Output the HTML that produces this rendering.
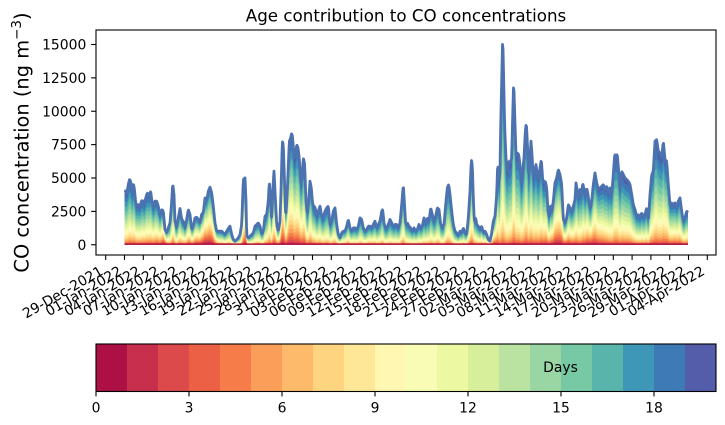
<!DOCTYPE html>
<html><head><meta charset="utf-8">
<style>
html,body{margin:0;padding:0;background:#fff;}
svg{display:block;}
text{font-family:"DejaVu Sans","Liberation Sans",sans-serif;fill:#000;}
</style></head>
<body>
<svg id="s" width="725" height="425" viewBox="0 0 725 425" xmlns="http://www.w3.org/2000/svg">
<rect x="0" y="0" width="725" height="425" fill="#fff"/>
<g id="stack"></g>
<rect x="96" y="30" width="620" height="225" fill="none" stroke="#000" stroke-width="1.1"/>
<text x="406" y="21.7" font-size="16.7" text-anchor="middle">Age contribution to CO concentrations</text>
<text transform="translate(28.5,142.5) rotate(-90)" font-size="19.4" text-anchor="middle">CO concentration (ng m<tspan dy="-7.5" font-size="13.5">−3</tspan><tspan dy="7.5">)</tspan></text>
<g stroke="#000" stroke-width="1.1">
<line x1="91.1" x2="96" y1="244.77" y2="244.77"/>
<line x1="91.1" x2="96" y1="211.39" y2="211.39"/>
<line x1="91.1" x2="96" y1="178.01" y2="178.01"/>
<line x1="91.1" x2="96" y1="144.63" y2="144.63"/>
<line x1="91.1" x2="96" y1="111.25" y2="111.25"/>
<line x1="91.1" x2="96" y1="77.87" y2="77.87"/>
<line x1="91.1" x2="96" y1="44.49" y2="44.49"/>
</g>
<g font-size="13.9" text-anchor="end">
<text x="86.3" y="249.8">0</text>
<text x="86.3" y="216.4">2500</text>
<text x="86.3" y="183.0">5000</text>
<text x="86.3" y="149.6">7500</text>
<text x="86.3" y="116.3">10000</text>
<text x="86.3" y="82.9">12500</text>
<text x="86.3" y="49.5">15000</text>
</g>
<g id="xticks" stroke="#000" stroke-width="1.1"></g>
<g font-size="13.9" text-anchor="end">
<text transform="translate(104.0,273.8) rotate(-30)">29-Dec-2021</text>
<text transform="translate(122.8,273.8) rotate(-30)">01-Jan-2022</text>
<text transform="translate(141.6,273.8) rotate(-30)">04-Jan-2022</text>
<text transform="translate(160.4,273.8) rotate(-30)">07-Jan-2022</text>
<text transform="translate(179.2,273.8) rotate(-30)">10-Jan-2022</text>
<text transform="translate(198.0,273.8) rotate(-30)">13-Jan-2022</text>
<text transform="translate(216.8,273.8) rotate(-30)">16-Jan-2022</text>
<text transform="translate(235.6,273.8) rotate(-30)">19-Jan-2022</text>
<text transform="translate(254.4,273.8) rotate(-30)">22-Jan-2022</text>
<text transform="translate(273.2,273.8) rotate(-30)">25-Jan-2022</text>
<text transform="translate(292.0,273.8) rotate(-30)">28-Jan-2022</text>
<text transform="translate(310.8,273.8) rotate(-30)">31-Jan-2022</text>
<text transform="translate(329.6,273.8) rotate(-30)">03-Feb-2022</text>
<text transform="translate(348.4,273.8) rotate(-30)">06-Feb-2022</text>
<text transform="translate(367.2,273.8) rotate(-30)">09-Feb-2022</text>
<text transform="translate(386.0,273.8) rotate(-30)">12-Feb-2022</text>
<text transform="translate(404.8,273.8) rotate(-30)">15-Feb-2022</text>
<text transform="translate(423.6,273.8) rotate(-30)">18-Feb-2022</text>
<text transform="translate(442.4,273.8) rotate(-30)">21-Feb-2022</text>
<text transform="translate(461.2,273.8) rotate(-30)">24-Feb-2022</text>
<text transform="translate(480.0,273.8) rotate(-30)">27-Feb-2022</text>
<text transform="translate(498.8,273.8) rotate(-30)">02-Mar-2022</text>
<text transform="translate(517.6,273.8) rotate(-30)">05-Mar-2022</text>
<text transform="translate(536.4,273.8) rotate(-30)">08-Mar-2022</text>
<text transform="translate(555.2,273.8) rotate(-30)">11-Mar-2022</text>
<text transform="translate(574.0,273.8) rotate(-30)">14-Mar-2022</text>
<text transform="translate(592.8,273.8) rotate(-30)">17-Mar-2022</text>
<text transform="translate(611.6,273.8) rotate(-30)">20-Mar-2022</text>
<text transform="translate(630.4,273.8) rotate(-30)">23-Mar-2022</text>
<text transform="translate(649.2,273.8) rotate(-30)">26-Mar-2022</text>
<text transform="translate(668.0,273.8) rotate(-30)">29-Mar-2022</text>
<text transform="translate(686.8,273.8) rotate(-30)">01-Apr-2022</text>
<text transform="translate(705.6,273.8) rotate(-30)">04-Apr-2022</text>
</g>
<!-- colorbar -->
<g id="cbar"></g>
<rect x="96" y="344" width="620" height="47.5" fill="none" stroke="#000" stroke-width="1.1"/>
<g stroke="#000" stroke-width="1.1">
<line x1="96" x2="96" y1="391.5" y2="396.4"/>
<line x1="189" x2="189" y1="391.5" y2="396.4"/>
<line x1="282" x2="282" y1="391.5" y2="396.4"/>
<line x1="375" x2="375" y1="391.5" y2="396.4"/>
<line x1="468" x2="468" y1="391.5" y2="396.4"/>
<line x1="561" x2="561" y1="391.5" y2="396.4"/>
<line x1="654" x2="654" y1="391.5" y2="396.4"/>
</g>
<g font-size="13.9" text-anchor="middle">
<text x="96" y="412.3">0</text>
<text x="189" y="412.3">3</text>
<text x="282" y="412.3">6</text>
<text x="375" y="412.3">9</text>
<text x="468" y="412.3">12</text>
<text x="561" y="412.3">15</text>
<text x="654" y="412.3">18</text>
</g>
<text x="560.5" y="372" font-size="13.9" text-anchor="middle">Days</text>
</svg>
<script>
(function(){
var NS="http://www.w3.org/2000/svg";
var C=['#ac1045','#c72f4c','#dd4a4c','#ec6146','#f67d4a','#fb9e5a','#fdba6b','#fed481','#fee898','#fff7b2','#f9fcb5','#ecf8a2','#d7ef9b','#bae3a1','#9ad6a4','#77c9a5','#59b4ab','#3f97b7','#3d7ab6','#535da9'];
var cb=document.getElementById('cbar');
for(var i=0;i<20;i++){var r=document.createElementNS(NS,'rect');r.setAttribute('x',96+31*i);r.setAttribute('y',344);r.setAttribute('width',31.4);r.setAttribute('height',47.5);r.setAttribute('fill',C[i]);cb.appendChild(r);}
var xt=document.getElementById('xticks');
for(var i=0;i<=32;i++){var x=105.7+18.8*i;var l=document.createElementNS(NS,'line');l.setAttribute('x1',x);l.setAttribute('x2',x);l.setAttribute('y1',255);l.setAttribute('y2',259.9);xt.appendChild(l);}
var P=[[124.5,189.3],[125.5,190],[126.7,192.7],[128.3,183.3],[129.7,177.7],[131,181.7],[132.3,193.3],[133.3,182.7],[134.3,186.7],[135.7,201.7],[136.7,205],[138.3,203.3],[140,205],[141.7,199.3],[143.3,200],[144.3,203.3],[145.7,196.7],[147.3,191.7],[149,195],[150.7,190],[151.7,198.3],[153.3,206.7],[155,200],[156.7,200],[158.3,205],[160,215],[161.7,208.3],[163.3,210],[165,228.3],[166.7,231.7],[168.3,226.7],[170,221.7],[171.7,200],[172.7,182.3],[174,193.3],[175,220],[176.7,226.7],[178.3,216.7],[180,207.3],[181.7,218.3],[183.3,220],[185,226.7],[186.7,218.3],[188.3,208.3],[190,213.3],[191.7,228.3],[193.3,225],[195,216.7],[196.7,216],[198.3,218.3],[200,221.7],[201.7,212.7],[203.3,211.7],[205,196.7],[206.7,199.3],[208.3,190],[210,186],[211.7,191.7],[213.3,205],[215,221.7],[216.7,230],[218.3,230],[221.7,230],[223.3,231.7],[225,233.3],[226.7,230],[228.3,227.3],
[230,225],[231.7,233.3],[233.3,238.3],[235,240],[236.7,238.3],[238.3,236.7],[240,233.3],[241.7,223.3],[243.3,178.3],[245,176.7],[246,200],[246.7,235],[248.3,236.7],[250,235],[251.7,233.3],[253.3,231.7],[255,225],[256.7,223.3],[258.3,221.7],[260,225],[261.7,233.3],[263.3,230],[265,215],[266.7,213.3],[268.3,200],[269.3,180],[270.7,200],[271.7,220],[272.7,190],[274,170],[275,190],[276.7,223.3],[278.3,230],[280,220],[281,190],[282.3,140],[283.3,143.3],[284.3,173.3],[285.7,216.7],[287.3,190],[289.3,140],[290.7,136.7],[291.7,131.7],[292.7,136.7],[294,156.7],[295.3,155],[296.7,143.3],[298,146.7],[299.3,156.7],[300.7,183.3],[302,176.7],[303.3,156.7],[304.7,163.3],[306,200],[307.3,213.3],[308.7,200],[310,180],[311.3,186.7],[312.7,203.3],[314,205],[315.3,206.7],[316.7,216.7],[318.3,210],[320,205],[321.7,215],[323.3,216.7],[325,210],[326.7,206.7],[328.3,205],[330,223.3],[331.7,220],[333.3,210],[335,206.7],[336.7,223.3],[338.3,233.3],[340,236.7],[341.7,231.7],[343.3,230],[345,230],[346.7,225],[348.3,218.3],[350,226.7],[351.7,230],[353.3,226.7],[355,226.7],[356.7,228.3],[358.3,225],[360,216.7],[361.7,218.3],[363.3,226.7],[365,230],[366.7,228.3],[368.3,225],[370,225],[371.7,226.7],[373.3,223.3],[375,220],[376.7,226.7],[378.3,223.3],[380,220],[381.7,210],[382.7,208.3],[384,221.7],[385.3,226.7],[386.7,226.7],[388.3,223.3],[390,218.3],[391.7,221.7],[393.3,225],[395,223.3],[396.7,223.3],[398.3,226.7],[400,221.7],[401.7,203.3],[403.3,183.3],[404.3,200],[405.7,223.3],[407.3,221.7],[409,225],[410.7,226.7],[412.3,230],[414,226.7],[415.7,230],[417.3,228.3],[419,223.3],[420.7,226.7],[422.3,225],[424,216.7],[425.7,223.3],[427.3,216.7],[429,220],[430.7,206.7],[432.3,213.3],[434,220],[435.7,215],[437.3,206.7],[439,208.3],[440.7,223.3],[442.3,225],[444,223.3],[445.7,203.3],[447.3,186.7],[448.7,183.3],
[450,193.3],[451.7,210],[453.3,223.3],[455,230],[456.7,231.7],[458.3,235],[460,230],[461.7,231.7],[463.3,226.7],[465,231.7],[466.7,233.3],[468.3,216.7],[470,190],[471.3,158.3],[472.3,163.3],[473.3,196.7],[474.3,220],[475.7,216.7],[476.7,223.3],[478.3,225],[480,228.3],[481.7,225],[483.3,231.7],[485,230],[486.7,233.3],[488.3,238.3],[490,240],[491.7,231.7],[493.3,220],[495,215],[496.7,193.3],[497.7,161.7],[499,180],[500,170],[500.7,123.3],[501.7,80],[502.7,34],[503.7,80],[504.7,126.7],[506,156.7],[507.3,170],[508.7,160],[510,161.7],[511.7,156.7],[512.7,113.3],[513.7,80],[514.7,113.3],[516,153.3],[517.3,151.7],[518.7,153.3],[520,163.3],[521.3,183.3],[522.7,170],[524,156.7],[525.3,130],[526.3,121.7],[527.3,140],[528.7,176.7],[530,156.7],[531,140],[532,153.3],[533.3,176.7],[534.7,170],[536,163.3],[537.3,173.3],[538.7,176.7],[540,166.7],[541.3,158.3],[542.7,178.3],[544,181.7],[545.3,180],[546.7,186.7],[548,210],[549.3,216.7],[550.7,203.3],[552,210],[553.3,200],[555,181.7],[556.7,176.7],[558.3,168.3],[560,173.3],[561.7,183.3],[563.3,218.3],[565,221.7],[566.7,216.7],[568.3,203.3],[570,206.7],[571.7,210],[573.3,205],[575,198.3],[576,181.7],[577.3,190],[578.7,196.7],[580,188.3],[581.7,193.3],[582.7,181.7],[584,188.3],[585.3,196.7],[586.7,186.7],[588,193.3],[589.3,203.3],[590.7,206.7],[592,196.7],[593.3,183.3],[595,171.7],[596.7,181.7],[598.3,188.3],[600,186.7],[601.7,185],[603.3,183.3],[605,188.3],[606.7,185],[608.3,191.7],[610,186.7],[611.7,193.3],[613.3,173.3],[614.7,153.3],[616,155],[617.3,153.3],[618.7,170],[620,186.7],[621.7,170],[623.3,173.3],[625,176.7],[626.7,178.3],[628.3,180],[630,183.3],[631.7,193.3],[633.3,203.3],[635,208.3],[636.7,215],[638.3,213.3],[640,216.7],[641.7,211.7],[643.3,215],[645,213.3],[646.7,206.7],[648.3,220],[650,193.3],[651.7,173.3],[653.3,170],[655,140],[656.7,138.3],[658.3,150],[660,151.7],[661.7,156.7],[663.3,140],[665,158.3],[666.7,160],[668.3,183.3],[670,203.3],[671.7,201.7],[673.3,203.3],[675,201.7],[676.7,206.7],[678.3,200],[680,196.7],[681.7,210],[683.3,220],[685,216.7],[686.7,210],[688.3,211.7]];
var Q=[[124,2.2],[135,2.0],[150,2.0],[160,1.7],[165,1.2],[170,2.2],[185,1.9],[195,1.5],[205,1.2],[212,1.3],[220,2.0],[240,2.4],[246,1.4],[250,2.3],[270,2.1],[280,1.5],[290,1.6],[300,1.7],[310,2.0],[330,2.3],[345,2.0],[360,2.4],[370,2.0],[380,2.4],[400,2.4],[430,2.3],[460,2.4],[480,2.0],[495,1.5],[502,2.6],[510,2.2],[520,2.1],[540,2.0],[555,1.4],[568,1.5],[580,2.0],[590,1.4],[600,1.7],[615,2.1],[640,2.0],[660,2.1],[675,1.7],[689,2.0]];
function interp(A,x){if(x<=A[0][0])return A[0][1];for(var i=1;i<A.length;i++){if(x<=A[i][0]){var a=A[i-1],b=A[i];var t=(x-a[0])/(b[0]-a[0]);return a[1]+t*(b[1]-a[1]);}}return A[A.length-1][1];}
var y0=244.77;
var xs=[],hs=[],qs=[];
for(var x=124.5,i=0;x<=688.31;x+=0.5,i++){
  var h=Math.max(0,y0-interp(P,x));
  xs.push(x);hs.push(h);qs.push(interp(Q,x));
}
var g=document.getElementById('stack');
for(var k=19;k>=0;k--){
  var d='M'+xs[0]+','+y0;
  for(var j=0;j<xs.length;j++){
    var c=hs[j]*Math.pow((k+1)/20,qs[j]);
    if(k==0)c=Math.max(c,Math.min(hs[j],1.4));
    d+='L'+xs[j].toFixed(1)+','+(y0-c).toFixed(2);
  }
  d+='L'+xs[xs.length-1]+','+y0+'Z';
  var p=document.createElementNS(NS,'path');p.setAttribute('d',d);p.setAttribute('fill',C[k]);g.appendChild(p);
}
var d2='';
for(var j=0;j<xs.length;j++){d2+=(j?'L':'M')+xs[j].toFixed(1)+','+(y0-hs[j]+1.2).toFixed(2);}
var ln=document.createElementNS(NS,'path');ln.setAttribute('d',d2);ln.setAttribute('fill','none');ln.setAttribute('stroke','#4c72b0');ln.setAttribute('stroke-width','2.8');ln.setAttribute('stroke-linejoin','round');g.appendChild(ln);
})();
</script>
</body></html>
